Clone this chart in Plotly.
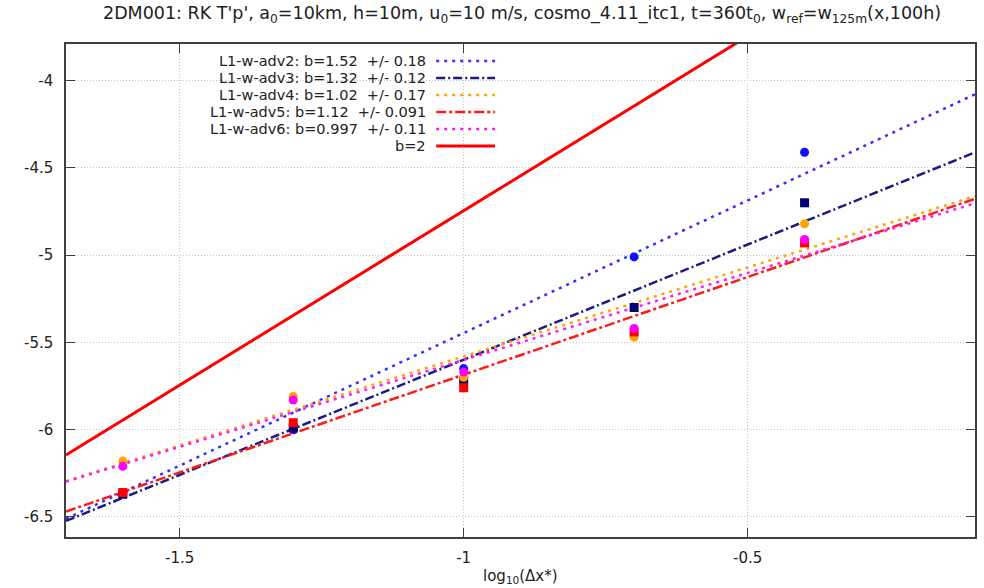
import plotly.graph_objects as go

# ---- data ----
x_log_dx = [-1.6, -1.3, -1.0, -0.7, -0.4]
series_names = ["L1-w-adv2", "L1-w-adv3", "L1-w-adv4", "L1-w-adv5", "L1-w-adv6"]
adv2 = [-6.36, -6.00, -5.65, -5.01, -4.41]
adv3 = [-6.37, -5.99, -5.72, -5.30, -4.70]
adv4 = [-6.18, -5.81, -5.70, -5.47, -4.82]
adv5 = [-6.36, -5.96, -5.76, -5.44, -4.93]
adv6 = [-6.21, -5.83, -5.67, -5.42, -4.91]
fit_b = [1.52, 1.32, 1.02, 1.12, 0.997]
fit_err = ["0.18", "0.12", "0.17", "0.091", "0.11"]
fit_a = [-3.926, -4.279, -4.56, -4.565, -4.603]
ref_b = 2
ref_a = -2.745
x_range = [-1.7, -0.1]
y_range = [-6.615, -3.79]
x_ticks = [-1.5, -1.0, -0.5]
x_ticklabels = ["-1.5", "-1", "-0.5"]
y_ticks = [-4.0, -4.5, -5.0, -5.5, -6.0, -6.5]
y_ticklabels = ["-4", "-4.5", "-5", "-5.5", "-6", "-6.5"]

values = [adv2, adv3, adv4, adv5, adv6]
line_colors = ["#3030ff", "#1c1c80", "#ffa500", "#ff1a1a", "#ff1aff"]
marker_colors = ["#1010ff", "#000070", "#ffa500", "#ff0000", "#ff00ff"]
marker_symbols = ["circle", "square", "circle", "square", "circle"]
dashes = ["3px,5px", "9px,3px,2px,3px", "3px,5px", "10px,3px,3px,3px", "3px,5px"]

W, H = 984, 588
ML, MR, MT, MB = 66, 7, 44, 51
PW, PH = W - ML - MR, H - MT - MB


def px(xp):
    return (xp - ML) / PW


def py(yp):
    return 1 - (yp - MT) / PH


fig = go.Figure()
fx = x_range
for i in range(5):
    fig.add_trace(go.Scatter(
        x=fx, y=[fit_a[i] + fit_b[i] * v for v in fx], mode="lines",
        line=dict(color=line_colors[i], width=2.5, dash=dashes[i]),
        showlegend=False, hoverinfo="skip"))
fig.add_trace(go.Scatter(
    x=fx, y=[ref_a + ref_b * v for v in fx], mode="lines",
    line=dict(color="#ff0000", width=3), showlegend=False))
for i in range(5):
    fig.add_trace(go.Scatter(
        x=x_log_dx, y=values[i], mode="markers",
        marker=dict(color=marker_colors[i], symbol=marker_symbols[i], size=9,
                    line=dict(width=0)),
        showlegend=False, cliponaxis=False))

font = "DejaVu Sans"
txtcol = "#222222"
shapes = [dict(type="rect", xref="paper", yref="paper",
               x0=px(150), x1=px(500), y0=py(46), y1=py(154),
               fillcolor="white", line=dict(width=0), layer="between")]
annotations = []
rows_y = [61, 78, 95, 112, 129, 146]
labels = [f"{series_names[i]}: b={fit_b[i]}\u00a0\u00a0+/- {fit_err[i]}" for i in range(5)] + [f"b={ref_b}"]
sample_styles = [(line_colors[i], 2.5, dashes[i]) for i in range(5)] + [("#ff0000", 3, "solid")]
for r, yy in enumerate(rows_y):
    annotations.append(dict(x=px(428), y=py(yy), xref="paper", yref="paper",
                            text=labels[r], showarrow=False, xanchor="right",
                            yanchor="middle", borderpad=0,
                            font=dict(family=font, size=14.5, color=txtcol)))
    c, w, d = sample_styles[r]
    shapes.append(dict(type="line", xref="paper", yref="paper",
                       x0=px(437), x1=px(496), y0=py(yy), y1=py(yy),
                       line=dict(color=c, width=w, dash=d), layer="above"))

annotations.append(dict(
    x=px(523), y=1 - (15 - MT) / PH, xref="paper", yref="paper", showarrow=False,
    xanchor="center", yanchor="middle",
    text="2DM001: RK T'p', a<sub>0</sub>=10km, h=10m, u<sub>0</sub>=10 m/s, cosmo_4.11_itc1, t=360t<sub>0</sub>, w<sub>ref</sub>=w<sub>125m</sub>(x,100h)",
    font=dict(family=font, size=17.5, color=txtcol)))
annotations.append(dict(
    x=px(521), y=py(576), xref="paper", yref="paper", showarrow=False,
    xanchor="center", yanchor="middle", text="log<sub>10</sub>(\u0394x*)",
    font=dict(family=font, size=15, color=txtcol)))

axis_common = dict(showline=True, mirror="ticks", linecolor="#404040", linewidth=1.5,
                   ticks="inside", ticklen=9, tickwidth=1.2, tickcolor="#404040",
                   showgrid=True, gridcolor="#c4c4c4", gridwidth=1, griddash="1px,2px",
                   zeroline=False, tickfont=dict(family=font, size=15, color=txtcol))

fig.update_layout(
    width=W, height=H, margin=dict(l=ML, r=MR, t=MT, b=MB),
    paper_bgcolor="white", plot_bgcolor="white",
    xaxis=dict(range=x_range, tickvals=x_ticks, ticktext=x_ticklabels,
               ticklabelstandoff=6, **axis_common),
    yaxis=dict(range=y_range, tickvals=y_ticks, ticktext=y_ticklabels,
               ticklabelstandoff=8, **axis_common),
    shapes=shapes, annotations=annotations, showlegend=False)

fig.write_html("out.html")
